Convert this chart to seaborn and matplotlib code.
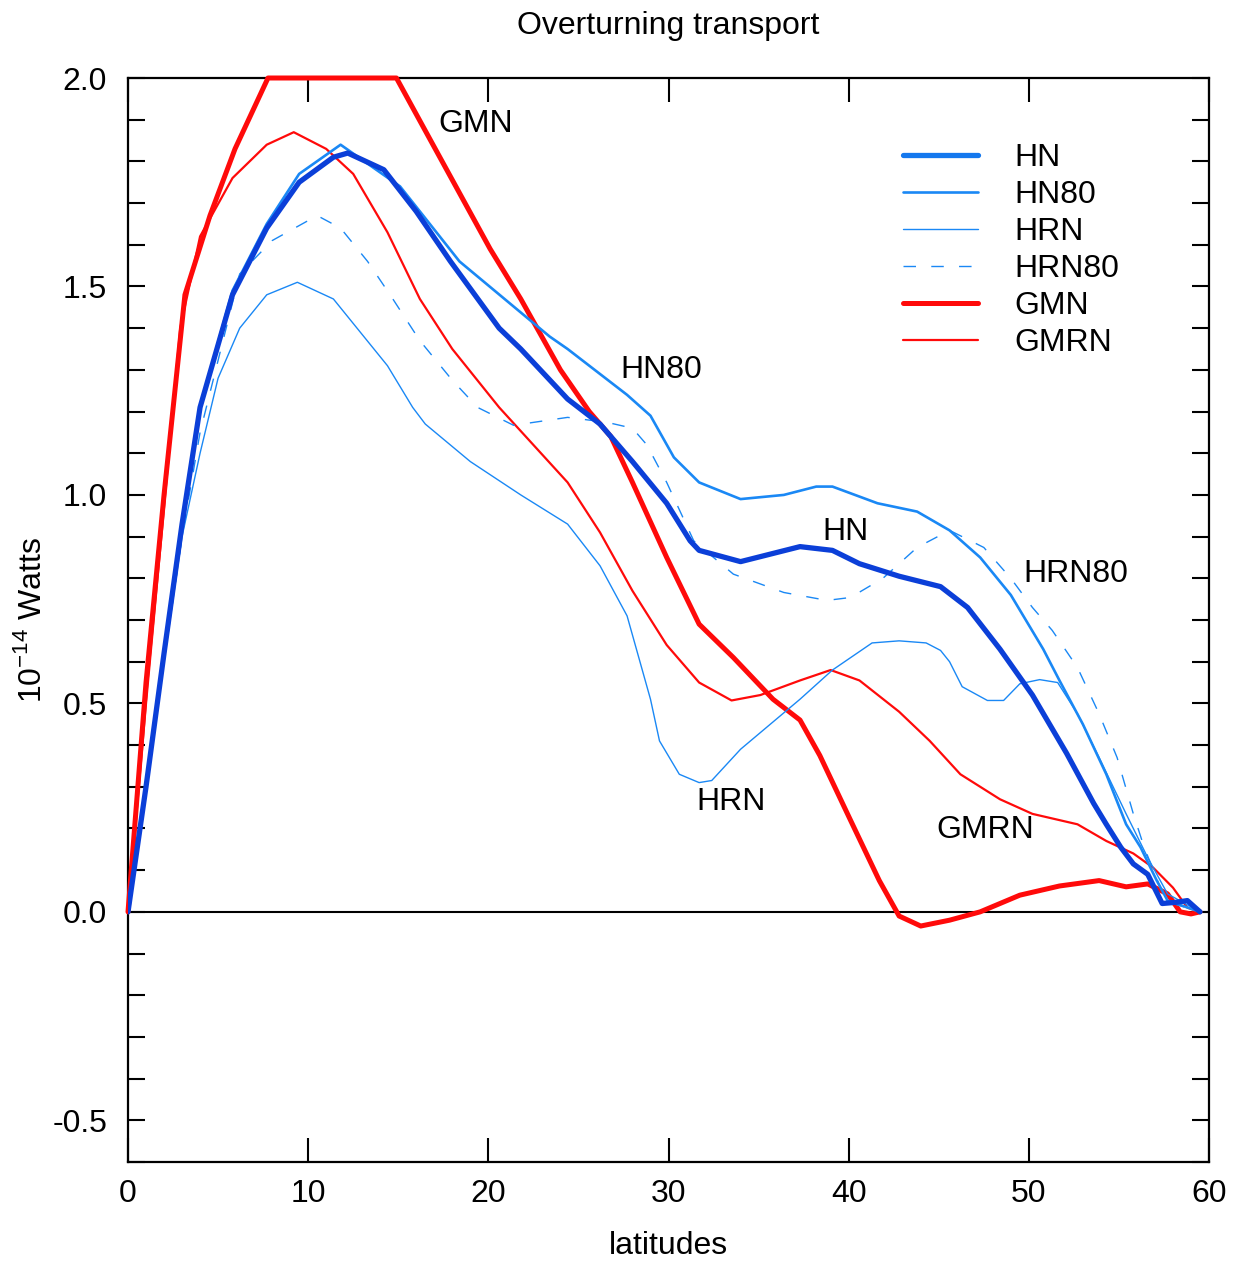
import numpy as np
import pandas as pd
import matplotlib
matplotlib.use("Agg")
import matplotlib.pyplot as plt
import seaborn as sns
from matplotlib.lines import Line2D
from matplotlib.ticker import MultipleLocator

# ---------------- data ----------------
gmn_lat = [0, 1, 2, 3.16, 4.55, 5.94, 7.77, 14.9, 16.8, 20.1, 21.8, 24.0, 25.6, 26.8, 28.0,
           29.9, 31.7, 33.6, 35.8, 37.3, 38.4, 40.1, 41.7, 42.8, 44.0, 45.6, 47.3, 49.5,
           51.7, 53.9, 55.4, 56.6, 57.7, 58.4, 59.0, 59.5]
gmn_val = [0, 0.55, 1.0, 1.48, 1.67, 1.83, 2.0, 2.0, 1.85, 1.59, 1.47, 1.30, 1.20, 1.14, 1.03,
           0.85, 0.69, 0.61, 0.51, 0.46, 0.375, 0.22, 0.075, -0.01, -0.034, -0.02, 0.0, 0.04,
           0.062, 0.075, 0.06, 0.067, 0.043, 0.0, -0.005, 0.0]

gmrn_lat = [0, 1, 2, 2.9, 4.0, 5.8, 7.7, 9.2, 11.0, 12.5, 14.4, 16.2, 18.0, 20.6, 24.4, 26.2,
            28.0, 29.9, 31.7, 33.5, 35.1, 37.3, 39.0, 40.6, 42.8, 44.5, 46.2, 48.4, 50.2,
            52.7, 54.3, 55.8, 56.9, 58.0, 58.8, 59.5]
gmrn_val = [0, 0.5, 0.97, 1.40, 1.62, 1.76, 1.84, 1.87, 1.83, 1.77, 1.63, 1.47, 1.35, 1.21,
            1.03, 0.91, 0.77, 0.64, 0.55, 0.507, 0.52, 0.555, 0.58, 0.555, 0.48, 0.41, 0.33,
            0.27, 0.235, 0.21, 0.17, 0.14, 0.106, 0.058, 0.01, 0.0]

hn_lat = [0, 1, 2, 3, 4.0, 5.8, 7.7, 9.5, 11.4, 12.2, 14.2, 16.0, 17.9, 20.6, 21.8, 24.4, 26.2,
          28.0, 29.9, 31.2, 31.7, 34.0, 37.3, 39.1, 40.6, 42.8, 45.1, 46.6, 48.4, 50.2, 52.1,
          53.6, 54.3, 55.1, 55.8, 56.6, 57.4, 58.2, 58.8, 59.5]
hn_val = [0, 0.3, 0.62, 0.93, 1.21, 1.48, 1.64, 1.75, 1.81, 1.82, 1.78, 1.68, 1.56, 1.40, 1.35,
          1.23, 1.17, 1.08, 0.98, 0.89, 0.867, 0.84, 0.876, 0.867, 0.835, 0.805, 0.78, 0.73,
          0.63, 0.52, 0.38, 0.26, 0.21, 0.155, 0.115, 0.09, 0.02, 0.023, 0.027, 0.0]

hn80_lat = [0, 1, 2, 3, 4.0, 5.8, 7.7, 9.5, 11.8, 15.1, 18.4, 23.4, 24.4, 27.7, 29.0, 30.3,
            31.7, 34.0, 36.4, 38.2, 39.1, 41.6, 43.8, 45.6, 47.3, 49.0, 50.8, 51.7, 53.0,
            54.3, 55.4, 56.2, 57.1, 57.7, 59.5]
hn80_val = [0, 0.3, 0.62, 0.93, 1.21, 1.49, 1.65, 1.77, 1.84, 1.74, 1.56, 1.38, 1.35, 1.24,
            1.19, 1.09, 1.03, 0.99, 1.0, 1.02, 1.02, 0.98, 0.96, 0.915, 0.85, 0.76, 0.63,
            0.555, 0.45, 0.33, 0.21, 0.155, 0.075, 0.027, 0.0]

hrn_lat = [0, 1, 2, 3, 4, 5, 6.2, 7.7, 9.4, 11.4, 12.9, 14.4, 15.8, 16.5, 19.0, 21.8, 24.4,
           26.2, 27.7, 29.0, 29.5, 30.6, 31.7, 32.4, 34.0, 37.3, 39.1, 41.3, 42.8, 44.3,
           45.1, 45.6, 46.3, 47.7, 48.6, 49.5, 50.6, 51.6, 52.7, 53.9, 55.4, 56.6, 57.7, 59.5]
hrn_val = [0, 0.3, 0.6, 0.9, 1.1, 1.28, 1.40, 1.48, 1.51, 1.47, 1.39, 1.31, 1.21, 1.17, 1.08,
           1.0, 0.93, 0.83, 0.71, 0.51, 0.41, 0.33, 0.31, 0.315, 0.39, 0.51, 0.58, 0.645,
           0.65, 0.645, 0.627, 0.60, 0.54, 0.507, 0.507, 0.547, 0.557, 0.55, 0.475, 0.37,
           0.235, 0.13, 0.043, 0.0]

hrn80_lat = [0, 1, 2, 3, 4, 6.2, 8.0, 10.5, 11.8, 13.3, 14.7, 16.2, 18.0, 19.4, 21.4, 24.4,
             26.6, 28.0, 28.8, 29.9, 31.4, 33.6, 36.4, 38.8, 40.1, 41.9, 43.8, 45.6, 47.5,
             49.0, 50.2, 51.3, 52.7, 53.9, 54.9, 55.8, 56.4, 57.3, 58.0, 59.5]
hrn80_val = [0, 0.3, 0.6, 0.9, 1.15, 1.53, 1.61, 1.67, 1.64, 1.56, 1.47, 1.37, 1.275, 1.21,
             1.167, 1.186, 1.174, 1.16, 1.12, 1.03, 0.89, 0.81, 0.766, 0.747, 0.754, 0.80,
             0.874, 0.915, 0.874, 0.80, 0.73, 0.675, 0.586, 0.475, 0.37, 0.235, 0.155, 0.058,
             0.02, 0.0]

series_names = ["HN", "HN80", "HRN", "HRN80", "GMN", "GMRN"]

# text labels on the curves: (text, lat, value)
curve_labels = [("GMN", 19.3, 1.89), ("HN80", 29.6, 1.30), ("HN", 39.8, 0.91),
                ("HRN80", 52.6, 0.81), ("HRN", 33.5, 0.264), ("GMRN", 47.6, 0.197)]

# ---------------- styling ----------------
sns.set_theme(style="white")
plt.rcParams['font.family'] = ['Liberation Sans', 'DejaVu Sans']
plt.rcParams['text.color'] = 'black'
plt.rcParams['axes.labelcolor'] = 'black'
plt.rcParams['mathtext.fontset'] = 'custom'
plt.rcParams['mathtext.rm'] = 'Liberation Sans'

FS = 23

fig = plt.figure(figsize=(12.36, 12.62), dpi=100)
ax = fig.add_axes([128 / 1236, 1 - 1162 / 1262, (1209 - 128) / 1236, (1162 - 78) / 1262])

blue_dark = "#0b3fd8"
blue_light = "#1a88f5"
red = "#ff0a0a"

styles = {
    "HN": dict(color=blue_dark, lw=3.8, ls="-"),
    "HN80": dict(color=blue_light, lw=1.9, ls="-"),
    "HRN": dict(color=blue_light, lw=1.0, ls="-"),
    "HRN80": dict(color=blue_light, lw=1.0, ls=(0, (9, 11))),
    "GMN": dict(color=red, lw=3.6, ls="-"),
    "GMRN": dict(color=red, lw=1.6, ls="-"),
}
data = {
    "HN": (hn_lat, hn_val), "HN80": (hn80_lat, hn80_val), "HRN": (hrn_lat, hrn_val),
    "HRN80": (hrn80_lat, hrn80_val), "GMN": (gmn_lat, gmn_val), "GMRN": (gmrn_lat, gmrn_val),
}

ax.axhline(0, color="black", lw=1.5, zorder=1)

draw_order = ["GMRN", "GMN", "HRN", "HRN80", "HN80", "HN"]
for name in draw_order:
    lat, val = data[name]
    st = styles[name]
    sns.lineplot(x=lat, y=val, ax=ax, sort=False, estimator=None, color=st["color"],
                 linewidth=st["lw"], linestyle=st["ls"], zorder=3,
                 clip_on=(name != "GMN"))

ax.set_xlim(0, 60)
ax.set_ylim(-0.6, 2.0)
ax.xaxis.set_major_locator(MultipleLocator(10))
ax.yaxis.set_minor_locator(MultipleLocator(0.1))
yt = np.arange(-0.5, 2.01, 0.5)
ax.set_yticks(yt)
ax.set_yticklabels([f"{v:.1f}" for v in yt])

ax.tick_params(axis="x", which="major", direction="in", length=17, width=1.5,
               top=True, bottom=True, labelsize=FS, pad=12, colors="black")
ax.tick_params(axis="y", which="both", direction="in", length=12.5, width=1.5,
               left=True, right=True, labelsize=FS, pad=15, colors="black")
for sp in ax.spines.values():
    sp.set_color("black")
    sp.set_linewidth(1.6)

ax.set_xlabel("latitudes", fontsize=FS, labelpad=16, color="black")
ax.set_ylabel("10$^{\\mathregular{-14}}$ Watts", fontsize=FS, labelpad=3, color="black")
ax.set_title("Overturning transport", fontsize=FS, pad=32, color="black")

for txt, x, y in curve_labels:
    ax.text(x, y, txt, fontsize=FS, ha="center", va="center", color="black", zorder=5)

handles = []
for name in series_names:
    st = styles[name]
    col = "#1478ee" if name == "HN" else st["color"]
    handles.append(Line2D([], [], color=col, lw=st["lw"], ls=st["ls"]))
ax.legend(handles, series_names, loc="upper right", bbox_to_anchor=(0.929, 0.952),
          frameon=False, fontsize=FS, handlelength=2.35, handletextpad=1.15,
          labelspacing=0.22, borderaxespad=0)

fig.savefig("out.png", dpi=100)
